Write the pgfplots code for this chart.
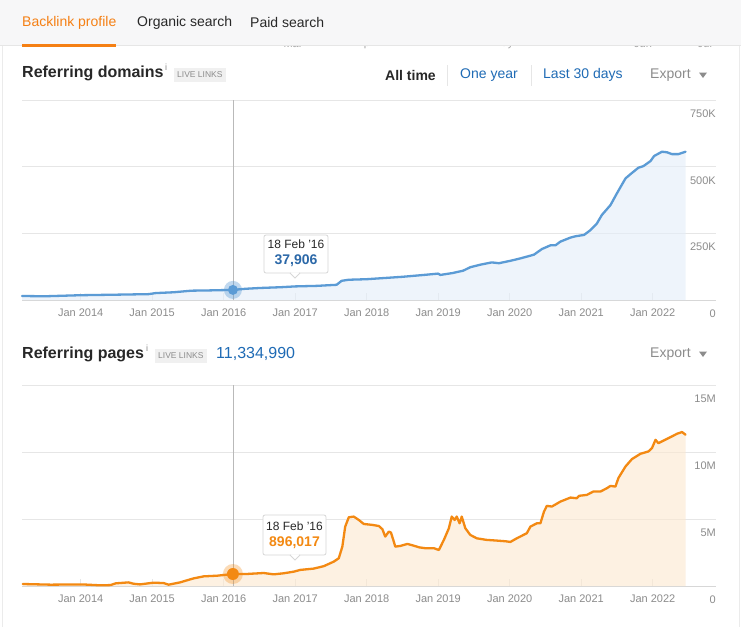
\documentclass[border=0pt]{standalone}
\usepackage{fontspec}
\setmainfont{Liberation Sans}
\usepackage{pgfplots}
\usepackage{pgfplotstable}
\pgfplotsset{compat=1.18}

\definecolor{blueline}{RGB}{91,155,213}
\definecolor{bluefill}{RGB}{228,238,249}
\definecolor{orangeline}{RGB}{243,137,18}
\definecolor{orangefill}{RGB}{252,232,208}
\definecolor{tickc}{RGB}{140,140,140}
\definecolor{gridc}{RGB}{230,230,230}
\definecolor{basec}{RGB}{215,215,215}
\definecolor{linkblue}{RGB}{31,107,181}
\definecolor{tipblue}{RGB}{43,104,168}
\definecolor{taborange}{RGB}{245,128,20}
\definecolor{tabbg}{RGB}{247,247,248}
\definecolor{dark}{RGB}{40,40,40}
\definecolor{badge}{RGB}{240,240,240}
\definecolor{badgetext}{RGB}{140,140,140}
\definecolor{cursorc}{RGB}{185,185,185}
\definecolor{boxborder}{RGB}{215,215,215}

\pgfplotstableread{
x y
2013.18 15
2013.50 14
2013.75 16
2014.00 18
2014.50 20
2014.95 22
2015.05 26
2015.30 29
2015.55 35
2015.80 36
2016.13 37.906
2016.30 42
2016.50 45
2016.80 48
2017.00 51
2017.30 53
2017.58 57
2017.65 72
2017.75 76
2018.00 78
2018.50 87
2018.80 94
2019.00 99
2019.03 94
2019.20 101
2019.35 110
2019.45 123
2019.60 133
2019.75 141
2019.85 138
2020.01 147
2020.15 156
2020.34 170
2020.45 191
2020.57 205
2020.64 205
2020.71 219
2020.85 234
2020.92 239
2021.04 244
2021.13 262
2021.22 287
2021.29 319
2021.41 356
2021.50 400
2021.62 456
2021.69 472
2021.80 496
2021.87 502
2021.97 521
2022.02 540
2022.13 556
2022.20 554
2022.27 547
2022.36 547
2022.46 556
}\domains

\pgfplotstableread{
x y
2013.19 0.15
2013.58 0.10
2014.02 0.12
2014.28 0.05
2014.42 0.07
2014.49 0.20
2014.67 0.27
2014.74 0.17
2014.83 0.12
2015.02 0.25
2015.16 0.22
2015.23 0.10
2015.39 0.27
2015.58 0.57
2015.72 0.72
2015.91 0.77
2016.13 0.896
2016.33 0.90
2016.56 0.97
2016.70 0.87
2016.84 0.95
2016.98 1.07
2017.07 1.20
2017.26 1.30
2017.40 1.48
2017.54 1.82
2017.61 2.07
2017.66 2.94
2017.70 4.43
2017.75 5.13
2017.82 5.18
2017.89 4.93
2017.96 4.63
2018.08 4.56
2018.17 4.48
2018.22 4.24
2018.26 3.69
2018.31 4.06
2018.34 3.99
2018.38 3.31
2018.40 2.94
2018.47 2.99
2018.57 3.14
2018.66 3.01
2018.73 2.89
2018.82 2.82
2018.94 2.82
2019.01 2.69
2019.08 3.44
2019.15 4.31
2019.19 5.18
2019.23 4.93
2019.26 5.18
2019.30 4.68
2019.33 5.18
2019.38 4.31
2019.45 3.81
2019.54 3.56
2019.68 3.44
2019.82 3.39
2019.94 3.34
2020.01 3.29
2020.10 3.56
2020.24 3.94
2020.29 4.43
2020.38 4.68
2020.43 4.68
2020.48 5.55
2020.52 5.98
2020.59 5.93
2020.71 6.30
2020.85 6.60
2020.94 6.55
2020.97 6.73
2021.08 6.80
2021.17 7.05
2021.27 7.05
2021.36 7.30
2021.41 7.47
2021.48 7.42
2021.52 8.05
2021.62 8.92
2021.71 9.47
2021.83 9.87
2021.94 10.04
2021.99 10.29
2022.04 10.91
2022.08 10.66
2022.13 10.79
2022.25 11.11
2022.34 11.36
2022.41 11.49
2022.46 11.29
}\pages

\pgfplotsset{
  ahrefs/.style={
    anchor=south west, scale only axis, width=694pt,
    xmin=2013.18, xmax=2022.886, ymin=0,
    axis line style={draw=none},
    xtick={2014,2015,...,2022},
    xticklabels={Jan 2014,Jan 2015,Jan 2016,Jan 2017,Jan 2018,Jan 2019,Jan 2020,Jan 2021,Jan 2022},
    xtick pos=lower, tick align=inside,
    xtick style={draw=gridc, line width=0.8pt},
    major tick length=7pt,
    xticklabel style={font=\fontsize{11}{13}\selectfont, text=tickc, inner sep=0pt, anchor=north, yshift=-8.5pt},
    ytick pos=right, yticklabel pos=right,
    ytick style={draw=none},
    yticklabel style={font=\fontsize{11}{13}\selectfont, text=tickc, inner sep=0pt, anchor=north east, yshift=-9.5pt},
    ymajorgrids, grid style={draw=gridc, line width=0.8pt},
    extra y ticks={0}, extra y tick labels={0},
    extra y tick style={grid=major, grid style={draw=basec, line width=0.8pt}, ytick style={draw=none}},
    clip=false,
  }
}

\begin{document}
\begin{tikzpicture}
\path[use as bounding box, fill=white] (0pt,0pt) rectangle (741pt,-627pt);
% month labels scrolled under the sticky tab bar
\foreach \xx/\tt in {293/Mar,365/Apr,503/May,643/Jun,705/Jul}
  \node[font=\fontsize{11}{13}\selectfont, text=tickc!80, inner sep=0pt] at (\xx pt,-43.5pt) {\tt};
\fill[tabbg] (0pt,0pt) rectangle (741pt,-45pt);
\draw[gridc, line width=0.6pt] (0pt,-45.3pt) -- (741pt,-45.3pt);
\draw[gridc!80, line width=0.8pt] (2pt,-46pt) -- (2pt,-627pt);
\draw[gridc!80, line width=0.8pt] (739pt,-46pt) -- (739pt,-627pt);
% tabs
\node[anchor=west, inner sep=0pt, font=\fontsize{14}{16}\selectfont, text=taborange] at (22pt,-22.5pt) {Backlink profile};
\node[anchor=west, inner sep=0pt, font=\fontsize{14}{16}\selectfont, text=dark] at (137pt,-22.5pt) {Organic search};
\node[anchor=west, inner sep=0pt, font=\fontsize{14}{16}\selectfont, text=dark] at (250pt,-22.5pt) {Paid search};
\fill[taborange] (22pt,-44pt) rectangle (116pt,-47pt);

% header 1
\node[anchor=west, inner sep=0pt, font=\fontsize{16}{18}\selectfont\bfseries, text=dark] at (22pt,-73.5pt) {Referring domains};
\node[anchor=west, inner sep=0pt, font=\fontsize{9}{10}\selectfont, text=tickc] at (165pt,-67pt) {i};
\node[anchor=west, fill=badge, text=badgetext, font=\fontsize{8.5}{9}\selectfont, inner xsep=3pt, inner ysep=3.5pt] at (174pt,-75pt) {LIVE LINKS};
\node[anchor=west, inner sep=0pt, font=\fontsize{14}{16}\selectfont\bfseries, text=dark] at (385pt,-75pt) {All time};
\draw[gridc, line width=0.8pt] (447pt,-65pt) -- (447pt,-86pt);
\node[anchor=west, inner sep=0pt, font=\fontsize{14}{16}\selectfont, text=linkblue] at (460pt,-75pt) {One year};
\draw[gridc, line width=0.8pt] (531pt,-65pt) -- (531pt,-86pt);
\node[anchor=west, inner sep=0pt, font=\fontsize{14}{16}\selectfont, text=linkblue] at (543pt,-75pt) {Last 30 days};
\node[anchor=west, inner sep=0pt, font=\fontsize{14}{16}\selectfont, text=tickc] at (650pt,-75pt) {Export};
\fill[tickc] (699pt,-72.5pt) -- (707pt,-72.5pt) -- (703pt,-78pt) -- cycle;

% chart 1
\begin{axis}[ahrefs, at={(22pt,-300pt)}, height=200pt, ymax=750,
  ytick={250,500,750}, yticklabels={250K,500K,750K}]
\addplot[fill=bluefill, fill opacity=0.6, draw=none] table[x=x,y=y]{\domains} \closedcycle;
\addplot[blueline, line width=2.3pt, line join=round, line cap=round] table[x=x,y=y]{\domains};
\addplot[cursorc, line width=0.7pt] coordinates {(2016.13,0) (2016.13,750)};
\addplot[only marks, color=blueline, mark=*, mark size=9pt, fill opacity=0.38, draw opacity=0, mark options={fill=blueline, draw opacity=0, fill opacity=0.38}] coordinates {(2016.13,37.906)};
\addplot[only marks, color=blueline, mark=*, mark size=5pt, draw opacity=0, mark options={fill=blueline, draw opacity=0}] coordinates {(2016.13,37.906)};
\end{axis}
% tooltip 1
\draw[boxborder, fill=white, rounded corners=2pt, line width=0.8pt] (264pt,-235pt) rectangle (328pt,-273pt);
\filldraw[fill=white, draw=boxborder, line width=0.8pt] (290pt,-273pt) -- (295pt,-278pt) -- (300pt,-273pt);
\fill[white] (290.9pt,-272.4pt) -- (295pt,-276.7pt) -- (299.1pt,-272.4pt) -- cycle;
\node[inner sep=0pt, font=\fontsize{12}{14}\selectfont, text=dark] at (296pt,-244pt) {18 Feb '16};
\node[inner sep=0pt, font=\fontsize{14}{16}\selectfont\bfseries, text=tipblue] at (296pt,-260.5pt) {37,906};

% header 2
\node[anchor=west, inner sep=0pt, font=\fontsize{16}{18}\selectfont\bfseries, text=dark] at (22pt,-354.5pt) {Referring pages};
\node[anchor=west, inner sep=0pt, font=\fontsize{9}{10}\selectfont, text=tickc] at (146pt,-348pt) {i};
\node[anchor=west, fill=badge, text=badgetext, font=\fontsize{8.5}{9}\selectfont, inner xsep=3pt, inner ysep=3.5pt] at (155pt,-356pt) {LIVE LINKS};
\node[anchor=west, inner sep=0pt, font=\fontsize{16}{18}\selectfont, text=linkblue] at (216pt,-354pt) {11,334,990};
\node[anchor=west, inner sep=0pt, font=\fontsize{14}{16}\selectfont, text=tickc] at (650pt,-354pt) {Export};
\fill[tickc] (699pt,-351.5pt) -- (707pt,-351.5pt) -- (703pt,-357pt) -- cycle;

% chart 2
\begin{axis}[ahrefs, at={(22pt,-586pt)}, height=201pt, ymax=15,
  ytick={5,10,15}, yticklabels={5M,10M,15M}]
\addplot[fill=orangefill, fill opacity=0.6, draw=none] table[x=x,y=y]{\pages} \closedcycle;
\addplot[orangeline, line width=2.3pt, line join=round, line cap=round] table[x=x,y=y]{\pages};
\addplot[cursorc, line width=0.7pt] coordinates {(2016.13,0) (2016.13,15)};
\addplot[only marks, color=orangeline, mark=*, mark size=10pt, fill opacity=0.3, draw opacity=0, mark options={fill=orangeline, draw opacity=0, fill opacity=0.3}] coordinates {(2016.13,0.896017)};
\addplot[only marks, color=orangeline, mark=*, mark size=6pt, draw opacity=0, mark options={fill=orangeline, draw opacity=0}] coordinates {(2016.13,0.896017)};
\end{axis}
% tooltip 2
\draw[boxborder, fill=white, rounded corners=2pt, line width=0.8pt] (263pt,-515pt) rectangle (326pt,-555pt);
\filldraw[fill=white, draw=boxborder, line width=0.8pt] (290pt,-555pt) -- (295pt,-560pt) -- (300pt,-555pt);
\fill[white] (290.9pt,-554.4pt) -- (295pt,-558.7pt) -- (299.1pt,-554.4pt) -- cycle;
\node[inner sep=0pt, font=\fontsize{12}{14}\selectfont, text=dark] at (294.5pt,-526.5pt) {18 Feb '16};
\node[inner sep=0pt, font=\fontsize{14}{16}\selectfont\bfseries, text=orangeline] at (294.5pt,-543pt) {896,017};
\end{tikzpicture}
\end{document}
